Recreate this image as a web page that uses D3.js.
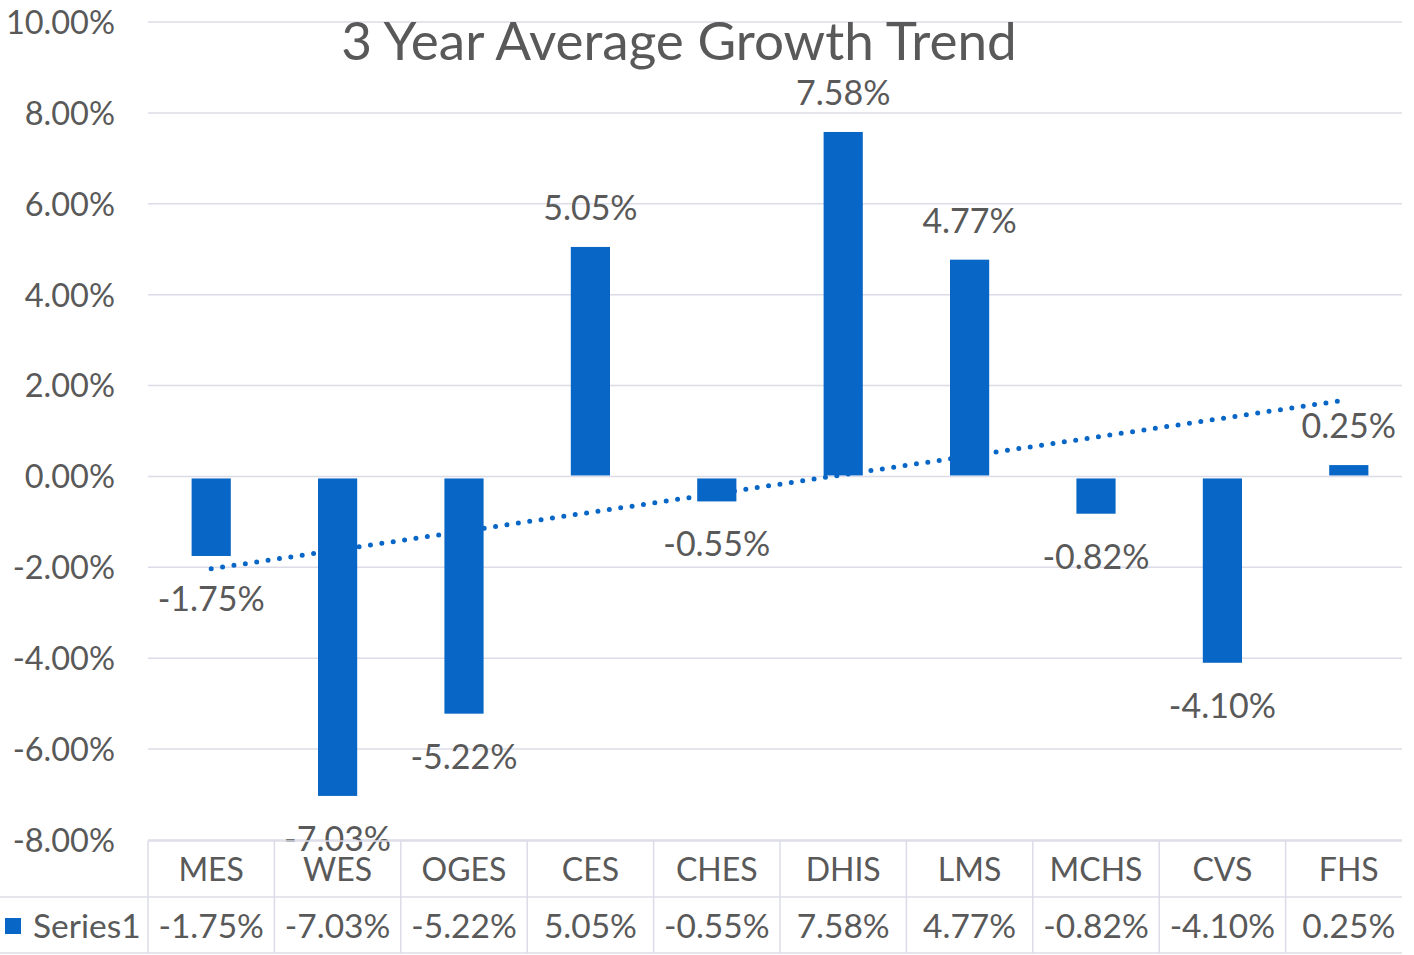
<!DOCTYPE html>
<html>
<head>
<meta charset="utf-8">
<script src="https://cdn.jsdelivr.net/npm/d3@7/dist/d3.min.js"></script>
<style>
  html, body { margin: 0; padding: 0; background: #fff; }
  svg { display: block; }
  text { font-family: Lato, "Open Sans", sans-serif; fill: #595959; }
</style>
</head>
<body>
<svg id="chart" width="1414" height="955"></svg>
<script>
const categories = ["MES", "WES", "OGES", "CES", "CHES", "DHIS", "LMS", "MCHS", "CVS", "FHS"];
const values = [-1.75, -7.03, -5.22, 5.05, -0.55, 7.58, 4.77, -0.82, -4.10, 0.25];
const yTicks = [10, 8, 6, 4, 2, 0, -2, -4, -6, -8];
const seriesName = "Series1";
const title = "3 Year Average Growth Trend";

const W = 1414, H = 955;
const svg = d3.select("#chart");
const blue = "#0866c6";
const gridColor = "#dcdce8";

const x = d3.scaleBand().domain(categories).range([148, 1412]).padding(0);
const y = d3.scaleLinear().domain([-8, 10]).range([840, 22]);
const fmt = v => v.toFixed(2) + "%";
const barW = x.bandwidth() * 0.31;

// gridlines
svg.append("g").selectAll("line").data(yTicks).join("line")
  .attr("x1", 148).attr("x2", 1402)
  .attr("y1", d => y(d)).attr("y2", d => y(d))
  .attr("stroke", gridColor).attr("stroke-width", 1.5);

// y axis labels
const yAxis = d3.axisLeft(y).tickValues(yTicks).tickFormat(fmt).tickSize(0).tickPadding(0);
const yg = svg.append("g").attr("transform", "translate(115,0)").call(yAxis);
yg.select(".domain").remove();
yg.selectAll("text").style("font-size", "32.5px").attr("fill", "#595959").attr("dy", "0.35em");

// title
svg.append("text").attr("x", 679).attr("y", 60).attr("text-anchor", "middle")
  .style("font-size", "53px").attr("fill", "#5f5f5f").text(title);

// bars
svg.append("g").selectAll("rect").data(values).join("rect")
  .attr("x", (d, i) => x(categories[i]) + x.bandwidth() / 2 - barW / 2)
  .attr("width", barW)
  .attr("y", d => d >= 0 ? y(d) : y(0) + 2)
  .attr("height", d => Math.max(1, Math.abs(y(d) - y(0)) - (d >= 0 ? 1 : 2)))
  .attr("fill", blue);

// trendline (linear least squares on the series, as Excel does)
const n = values.length;
const xs = d3.range(1, n + 1);
const mx = d3.mean(xs), my = d3.mean(values);
const slope = d3.sum(xs, (xi, i) => (xi - mx) * (values[i] - my)) / d3.sum(xs, xi => (xi - mx) ** 2);
const icpt = my - slope * mx;
const cx = i => x(categories[i]) + x.bandwidth() / 2;
svg.append("line")
  .attr("x1", cx(0)).attr("y1", y(icpt + slope * 1))
  .attr("x2", cx(n - 1) - 8).attr("y2", y(icpt + slope * n))
  .attr("stroke", blue).attr("stroke-width", 5)
  .attr("stroke-linecap", "round").attr("stroke-dasharray", "0 11.5");

// data labels
svg.append("g").selectAll("text").data(values).join("text")
  .attr("x", (d, i) => cx(i))
  .attr("y", d => d >= 0 ? y(d) - 27 : y(d) + 55)
  .attr("text-anchor", "middle").style("font-size", "34px").attr("fill", "#404040")
  .text(fmt);

// data table
const tg = svg.append("g");
const tTop = 841, tMid = 897, tBot = 953;
tg.append("line").attr("x1", 148).attr("x2", 1402).attr("y1", tTop).attr("y2", tTop)
  .attr("stroke", gridColor).attr("stroke-width", 1.5);
tg.append("line").attr("x1", 0).attr("x2", 1402).attr("y1", tMid).attr("y2", tMid)
  .attr("stroke", gridColor).attr("stroke-width", 1.5);
tg.append("line").attr("x1", 0).attr("x2", 1402).attr("y1", tBot).attr("y2", tBot)
  .attr("stroke", gridColor).attr("stroke-width", 1.5);
tg.selectAll("line.v").data(categories).join("line").attr("class", "v")
  .attr("x1", d => x(d)).attr("x2", d => x(d))
  .attr("y1", tTop).attr("y2", tBot)
  .attr("stroke", gridColor).attr("stroke-width", 1.5);

tg.selectAll("text.cat").data(categories).join("text").attr("class", "cat")
  .attr("x", d => x(d) + x.bandwidth() / 2).attr("y", 881)
  .attr("text-anchor", "middle").style("font-size", "32px").text(d => d);
tg.selectAll("text.val").data(values).join("text").attr("class", "val")
  .attr("x", (d, i) => cx(i)).attr("y", 938)
  .attr("text-anchor", "middle").style("font-size", "33.5px").text(fmt);

// legend key
tg.append("rect").attr("x", 5).attr("y", 918).attr("width", 16).attr("height", 16).attr("fill", blue);
tg.append("text").attr("x", 33).attr("y", 938).style("font-size", "33.5px").text(seriesName);
</script>
</body>
</html>
